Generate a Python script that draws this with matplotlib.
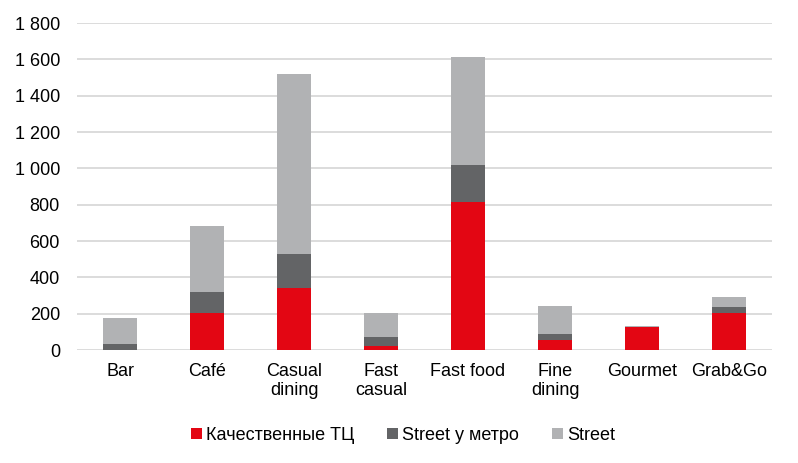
import numpy as np
import matplotlib.pyplot as plt

plt.rcParams['font.family'] = ['Liberation Sans', 'DejaVu Sans']

# values
categories = ['Bar', 'Café', 'Casual\ndining', 'Fast\ncasual', 'Fast food',
              'Fine\ndining', 'Gourmet', 'Grab&Go']
quality_mall = [0, 205, 343, 24, 817, 53, 128, 206]
street_metro = [35, 116, 188, 49, 204, 33, 0, 33]
street = [143, 364, 991, 133, 595, 158, 5, 55]

series_names = ['Качественные ТЦ', 'Street у метро', 'Street']
colors = ['#E30613', '#636466', '#B1B2B4']

fig = plt.figure(figsize=(7.98, 4.63), dpi=100)
ax = fig.add_axes([0.096, 0.244, 0.872, 0.706])

x = np.arange(len(categories))
bottom = np.zeros(len(categories))
for vals, name, col in zip([quality_mall, street_metro, street], series_names, colors):
    ax.bar(x, vals, width=0.4, bottom=bottom, color=col, label=name, zorder=3)
    bottom += np.array(vals)

ax.set_xlim(-0.5, len(categories) - 0.5)
ax.set_ylim(0, 1800)
ax.set_yticks(np.arange(0, 1801, 200))
ax.set_yticklabels(['{:,}'.format(v).replace(',', ' ') for v in range(0, 1801, 200)])
ax.set_xticks(x)
ax.set_xticklabels(categories)
ax.yaxis.grid(True, color='#D9D9D9', linewidth=1.3, zorder=0)
ax.tick_params(axis='both', length=0, labelsize=13, colors='black')
ax.tick_params(axis='x', pad=9)
ax.tick_params(axis='y', pad=12)
for s in ax.spines.values():
    s.set_visible(False)

handles, labels = ax.get_legend_handles_labels()
fig.legend(handles, labels, loc='center', bbox_to_anchor=(0.505, 0.06), ncol=3,
           frameon=False, fontsize=13, handlelength=0.6, handleheight=0.6,
           handletextpad=0.25, columnspacing=1.8)

fig.savefig('out.png', dpi=100)
